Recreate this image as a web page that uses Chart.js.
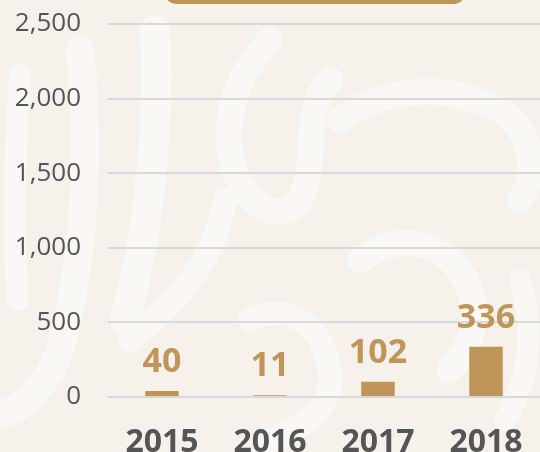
<!DOCTYPE html>
<html>
<head>
<meta charset="utf-8">
<script src="https://cdn.jsdelivr.net/npm/chart.js@4"></script>
<style>
  html, body { margin: 0; padding: 0; }
  body { width: 540px; height: 452px; overflow: hidden; background: #f6f1ea; position: relative; }
  #fundo, #wrap { position: absolute; left: 0; top: 0; width: 540px; height: 452px; }
  /* caixa do título, cortada no topo */
  #titulo { position: absolute; left: 163px; top: -30px; width: 304px; height: 34px;
            background: #c0955a; border-radius: 14px; }
</style>
</head>
<body>
<!-- padrão decorativo do fundo -->
<svg id="fundo" width="540" height="452" viewBox="0 0 540 452">
  <g fill="none" stroke="#ffffff" stroke-linecap="round" opacity="0.5">
    <path d="M20 75 C 15 150, 12 230, 18 300" stroke-width="22"/>
    <path d="M80 50 C 90 150, 85 260, 60 350 C 45 390, 20 410, 0 415" stroke-width="28"/>
    <path d="M155 30 C 160 120, 150 230, 125 320" stroke-width="30"/>
    <path d="M270 40 C 240 70, 225 110, 230 150 C 235 200, 280 230, 300 200 C 320 160, 300 110, 330 80" stroke-width="26"/>
    <path d="M225 200 C 215 260, 180 300, 130 340" stroke-width="24"/>
    <path d="M340 120 C 380 90, 440 80, 500 110 C 530 130, 540 170, 520 200" stroke-width="26"/>
    <path d="M360 260 C 400 230, 450 240, 470 290 C 480 320, 470 350, 450 370" stroke-width="26"/>
    <path d="M250 320 C 290 300, 330 330, 330 380 C 330 410, 300 430, 270 440" stroke-width="24"/>
    <path d="M520 280 C 535 330, 530 380, 505 420" stroke-width="22"/>
  </g>
</svg>
<div id="titulo"></div>
<div id="wrap"><canvas id="grafico" width="540" height="452"></canvas></div>
<script>
// dados
const anos = ['2015', '2016', '2017', '2018'];
const valores = [40, 11, 102, 336];
const ticksY = [0, 500, 1000, 1500, 2000, 2500];

const DOURADO = '#c0955a';
const CINZA = '#555555';
const FONTE = "'Open Sans', sans-serif";

// desenha os valores acima de cada barra
const rotulosBarras = {
    id: 'rotulosBarras',
    afterDatasetsDraw(chart) {
        const ctx = chart.ctx;
        const meta = chart.getDatasetMeta(0);
        ctx.save();
        ctx.fillStyle = DOURADO;
        ctx.font = "bold 34px " + FONTE;
        ctx.textAlign = 'center';
        ctx.textBaseline = 'alphabetic';
        meta.data.forEach((barra, i) => {
            ctx.fillText(valores[i].toLocaleString('en-US'), barra.x, barra.y - 19);
        });
        ctx.restore();
    }
};

const ctx = document.getElementById('grafico').getContext('2d');
new Chart(ctx, {
    type: 'bar',
    data: {
        labels: anos,
        datasets: [{
            data: valores,
            backgroundColor: DOURADO,
            borderWidth: 0,
            barPercentage: 0.31,
            categoryPercentage: 1
        }]
    },
    options: {
        responsive: false,
        animation: false,
        layout: { autoPadding: false, padding: { top: 24, right: 0, left: 0, bottom: 0 } },
        plugins: {
            legend: { display: false },
            tooltip: { enabled: false }
        },
        scales: {
            x: {
                grid: { display: false },
                border: { display: false },
                ticks: {
                    color: CINZA,
                    font: { family: FONTE, size: 32, weight: 'bold' },
                    padding: 19
                },
                afterFit(scale) {
                    scale.height = 55;
                    scale.paddingLeft = 0;
                    scale.paddingRight = 0;
                }
            },
            y: {
                min: 0,
                max: 2500,
                afterBuildTicks(scale) { scale.ticks = ticksY.map(v => ({ value: v })); },
                grid: { color: '#d9d9d9', lineWidth: 2, drawTicks: false },
                border: { display: false },
                ticks: {
                    color: CINZA,
                    font: { family: FONTE, size: 26 },
                    padding: 27,
                    callback: v => v.toLocaleString('en-US')
                },
                afterFit(scale) {
                    scale.width = 108;
                    scale.paddingTop = 0;
                    scale.paddingBottom = 0;
                }
            }
        }
    },
    plugins: [rotulosBarras]
});
</script>
</body>
</html>
